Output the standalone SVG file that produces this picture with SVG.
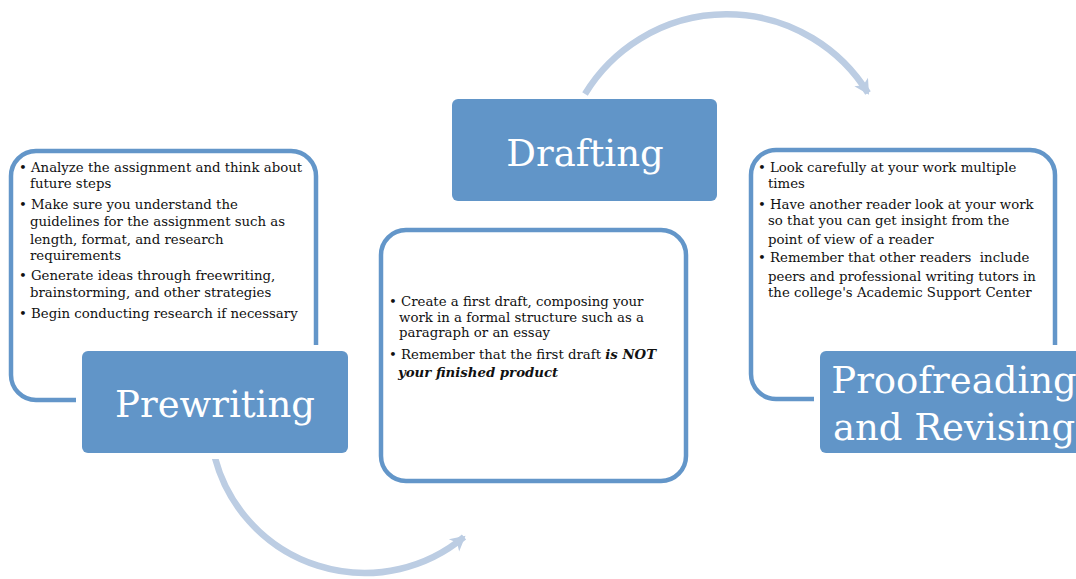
<svg xmlns="http://www.w3.org/2000/svg" width="1076" height="579" viewBox="0 0 1076 579">
<style>
.outline{fill:#fff;stroke:#6396C9;stroke-width:4.5}
.title{fill:#6195C8}
.gap{fill:#fff}
.ttl{font-family:"DejaVu Serif","Liberation Serif",serif;font-size:37px;fill:#fff;text-anchor:middle}
.body{font-family:"DejaVu Serif","Liberation Serif",serif;font-size:13.3px;fill:#111}
.arc{fill:none;stroke:#BCCDE3;stroke-width:6.5}
</style>
<defs>
<marker id="ah" markerUnits="userSpaceOnUse" markerWidth="20" markerHeight="20" refX="10" refY="0" viewBox="-4 -10 20 20" orient="auto">
<path d="M-3,-8 L12,0 L-3,8 L1,0 Z" fill="#BCCDE3"/>
</marker>
</defs>
<g id="connectors">
<path class="arc" d="M585,94 A166,166 0 0 1 868,93" marker-end="url(#ah)"/>
<path class="arc" d="M215,458 A155,155 0 0 0 464,537" marker-end="url(#ah)"/>
</g>
<g id="prewriting-box">
<rect class="outline" x="11" y="151" width="305" height="249" rx="25"/>
<text class="body"><tspan x="19" y="172">•</tspan><tspan x="31" y="172">Analyze the assignment and think about</tspan><tspan x="30" y="188">future steps</tspan>
<tspan x="19" y="209">•</tspan><tspan x="31" y="209">Make sure you understand the</tspan><tspan x="30" y="226">guidelines for the assignment such as</tspan><tspan x="30" y="244">length, format, and research</tspan><tspan x="30" y="260">requirements</tspan>
<tspan x="19" y="280">•</tspan><tspan x="31" y="280">Generate ideas through freewriting,</tspan><tspan x="30" y="297">brainstorming, and other strategies</tspan>
<tspan x="19" y="318">•</tspan><tspan x="31" y="318">Begin conducting research if necessary</tspan></text>
</g>
<g id="prewriting">
<rect class="gap" x="76" y="345" width="278" height="114" rx="10"/>
<rect class="title" x="82" y="351" width="266" height="102" rx="6"/>
<text class="ttl" x="215" y="417">Prewriting</text>
</g>
<g id="drafting">
<rect class="title" x="452" y="99" width="265" height="102" rx="6"/>
<text class="ttl" x="585" y="166">Drafting</text>
</g>
<g id="drafting-box">
<rect class="outline" x="381" y="230" width="305" height="251" rx="25"/>
<text class="body"><tspan x="389" y="306">•</tspan><tspan x="401" y="306">Create a first draft, composing your</tspan><tspan x="399" y="322">work in a formal structure such as a</tspan><tspan x="399" y="337">paragraph or an essay</tspan>
<tspan x="389" y="359">•</tspan><tspan x="401" y="359">Remember that the first draft <tspan font-weight="bold" font-style="italic">is NOT</tspan></tspan><tspan x="398" y="377" font-weight="bold" font-style="italic">your finished product</tspan></text>
</g>
<g id="proofreading-box">
<rect class="outline" x="751" y="150" width="304" height="249" rx="25"/>
<text class="body"><tspan x="758" y="172">•</tspan><tspan x="770" y="172">Look carefully at your work multiple</tspan><tspan x="768" y="188">times</tspan>
<tspan x="758" y="209">•</tspan><tspan x="770" y="209">Have another reader look at your work</tspan><tspan x="768" y="225">so that you can get insight from the</tspan><tspan x="768" y="244">point of view of a reader</tspan>
<tspan x="758" y="262">•</tspan><tspan x="770" y="262" xml:space="preserve">Remember that other readers  include</tspan><tspan x="768" y="281">peers and professional writing tutors in</tspan><tspan x="768" y="297">the college's Academic Support Center</tspan></text>
</g>
<g id="proofreading">
<rect class="gap" x="814" y="345" width="278" height="114" rx="10"/>
<rect class="title" x="820" y="351" width="266" height="102" rx="6"/>
<text class="ttl" x="954" y="393">Proofreading</text>
<text class="ttl" x="954" y="440">and Revising</text>
</g>
</svg>
